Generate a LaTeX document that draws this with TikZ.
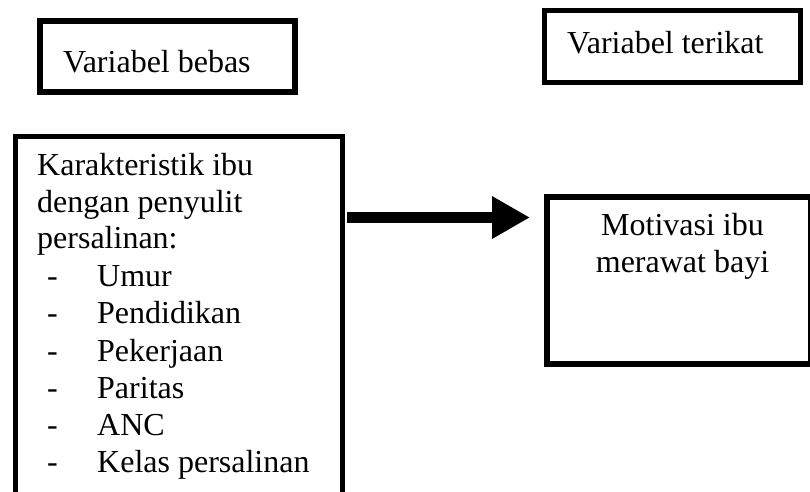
\documentclass[tikz,border=0pt]{standalone}
\usepackage{fontspec}
\setmainfont{Liberation Serif}
\usetikzlibrary{arrows.meta}
\begin{document}
\begin{tikzpicture}[x=1pt,y=-1pt,
  frame/.style={draw=black,line width=6pt,fill=white,inner sep=0pt},
  txt/.style={inner sep=0pt,anchor=base west,font=\fontsize{32}{37}\selectfont},
  ctxt/.style={inner sep=0pt,anchor=base,font=\fontsize{32}{37}\selectfont}]
\useasboundingbox (0,0) rectangle (810,491);
\clip (0,0) rectangle (810,491);
% boxes
\node[frame,minimum width=255pt,minimum height=71pt] (bebas) at (167.5,56.5) {};
\node[frame,line width=5pt,minimum width=255.5pt,minimum height=72pt] (terikat) at (672.25,46.5) {};
\node[frame,line width=5pt,minimum width=327pt,minimum height=400pt,anchor=north west] (karak) at (12.5,133.5) {};
\node[frame,line width=6pt,minimum width=264pt,minimum height=167pt,anchor=north west] (motiv) at (543.5,193.5) {};
% texts
\node[txt] (tbebas) at (63,72) {Variabel bebas};
\node[txt] (tterikat) at (567,53) {Variabel terikat};
\node[txt] (k1) at (37,175) {Karakteristik ibu};
\node[txt] (k2) at (37,212) {dengan penyulit};
\node[txt] (k3) at (37,248.5) {persalinan:};
\foreach \t [count=\i] in {Umur,Pendidikan,Pekerjaan,Paritas,ANC,Kelas persalinan}{
  \node[txt] (d\i) at (47,{249.5+37.2*\i}) {-};
  \node[txt] (it\i) at (97,{249.5+37.2*\i}) {\t};
}
\node[ctxt] (m1) at (682.5,235) {Motivasi ibu};
\node[ctxt] (m2) at (682.5,272) {merawat bayi};
% arrow
\coordinate (a1) at (347,217.5);
\coordinate (a2) at (530,217.5);
\draw[line width=11pt,-{Triangle[length=38pt,width=40pt]}] (a1) -- (a2);
\end{tikzpicture}
\end{document}
